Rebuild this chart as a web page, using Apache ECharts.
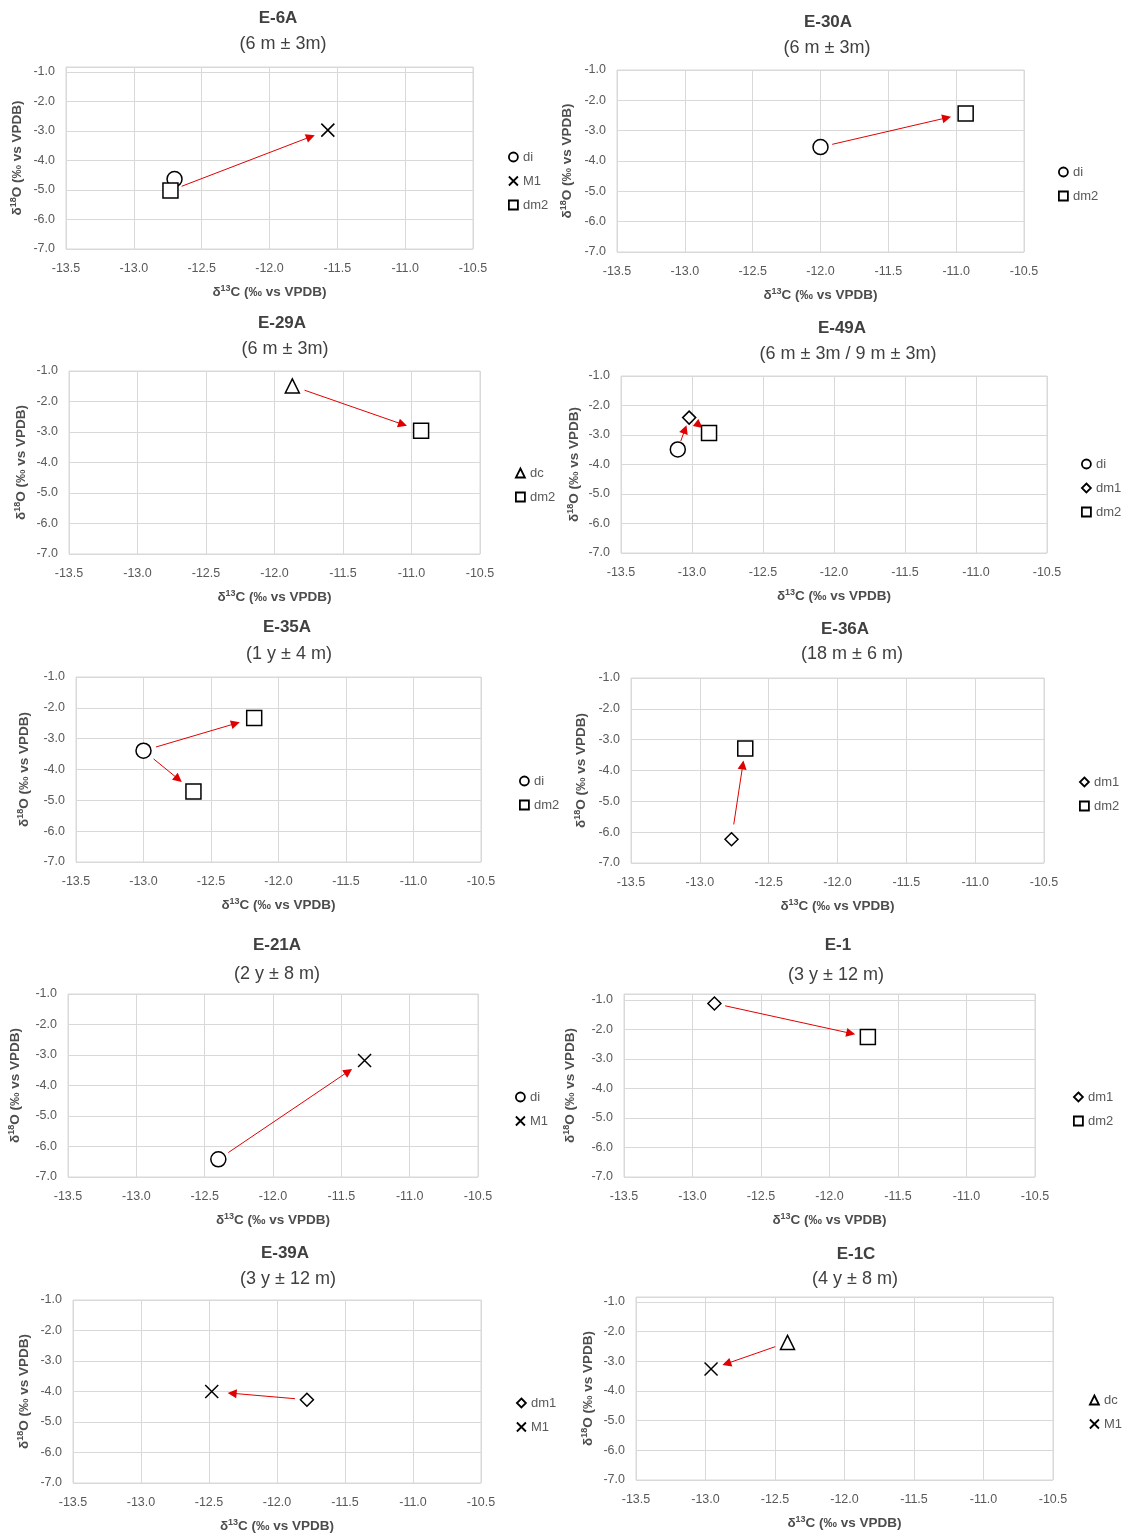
<!DOCTYPE html>
<html><head><meta charset="utf-8">
<script src="https://cdn.jsdelivr.net/npm/echarts@6/dist/echarts.min.js"></script>
<style>html,body{margin:0;padding:0;background:#fff}#c{width:1137px;height:1534px}</style>
</head><body><div id="c"></div>
<script>
// ---------------- DATA ----------------
const panelNames = ['E-6A','E-30A','E-29A','E-49A','E-35A','E-36A','E-21A','E-1','E-39A','E-1C'];
const panelAges = ['(6 m ± 3m)','(6 m ± 3m)','(6 m ± 3m)','(6 m ± 3m / 9 m ± 3m)','(1 y ± 4 m)','(18 m ± 6 m)','(2 y ± 8 m)','(3 y ± 12 m)','(3 y ± 12 m)','(4 y ± 8 m)'];
const xTickRange = [-13.5, -10.5, 0.5];   // min, max, step (δ13C)
const yTickRange = [-7.0, -1.0, 1.0];     // min, max, step (δ18O)

// [phase, [[δ13C, δ18O], ...]]
const ptsE6A  = [['di', [[-12.70,-4.63]]], ['M1', [[-11.57,-2.97]]], ['dm2', [[-12.73,-5.02]]]];
const ptsE30A = [['di', [[-12.00,-3.54]]], ['dm2', [[-10.93,-2.43]]]];
const ptsE29A = [['dc', [[-11.87,-1.49]]], ['dm2', [[-10.93,-2.96]]]];
const ptsE49A = [['di', [[-13.10,-3.49]]], ['dm1', [[-13.02,-2.41]]], ['dm2', [[-12.88,-2.93]]]];
const ptsE35A = [['di', [[-13.00,-3.39]]], ['dm2', [[-12.18,-2.33],[-12.63,-4.71]]]];
const ptsE36A = [['dm1', [[-12.77,-6.23]]], ['dm2', [[-12.67,-3.29]]]];
const ptsE21A = [['di', [[-12.40,-6.42]]], ['M1', [[-11.33,-3.18]]]];
const ptsE1   = [['dm1', [[-12.84,-1.12]]], ['dm2', [[-11.72,-2.26]]]];
const ptsE39A = [['dm1', [[-11.78,-4.27]]], ['M1', [[-12.48,-4.00]]]];
const ptsE1C  = [['dc', [[-12.41,-2.36]]], ['M1', [[-12.96,-3.26]]]];

// arrows: [[fromPhase, idx], [toPhase, idx]]
const arrE6A  = [[['dm2',0],['M1',0]]];
const arrE30A = [[['di',0],['dm2',0]]];
const arrE29A = [[['dc',0],['dm2',0]]];
const arrE49A = [[['di',0],['dm1',0]], [['dm1',0],['dm2',0]]];
const arrE35A = [[['di',0],['dm2',0]], [['di',0],['dm2',1]]];
const arrE36A = [[['dm1',0],['dm2',0]]];
const arrE21A = [[['di',0],['M1',0]]];
const arrE1   = [[['dm1',0],['dm2',0]]];
const arrE39A = [[['dm1',0],['M1',0]]];
const arrE1C  = [[['dc',0],['M1',0]]];

const allPts = [ptsE6A, ptsE30A, ptsE29A, ptsE49A, ptsE35A, ptsE36A, ptsE21A, ptsE1, ptsE39A, ptsE1C];
const allArrows = [arrE6A, arrE30A, arrE29A, arrE49A, arrE35A, arrE36A, arrE21A, arrE1, arrE39A, arrE1C];

// ---------------- LAYOUT / STYLE ----------------
// grid [left, top, right, bottom], yMax, title [x,y], sub [x,y], yName x, legend [left, firstCenterY], arrow gaps [start, tip]
const layouts = [
  {grid:[66,67,473,249],    yMax:-0.83, title:[278,17],   sub:[283,42],   yNameX:17,  legend:[508,157],  gaps:[12,14]},
  {grid:[617,70,1024,252],  yMax:-1,    title:[828,21],   sub:[827,46],   yNameX:567, legend:[1058,172], gaps:[12,15]},
  {grid:[69,371,480,554],   yMax:-1,    title:[282,322],  sub:[285,347],  yNameX:21,  legend:[515,473],  gaps:[13,15]},
  {grid:[621,376,1047,553], yMax:-1,    title:[842,327],  sub:[848,352],  yNameX:574, legend:[1081,464], gaps:[9,8]},
  {grid:[76,677,481,862],   yMax:-1,    title:[287,626],  sub:[289,652],  yNameX:24,  legend:[519,781],  gaps:[13,15]},
  {grid:[631,678,1044,863], yMax:-1,    title:[845,628],  sub:[852,652],  yNameX:581, legend:[1079,782], gaps:[15,12]},
  {grid:[68,994,478,1177],  yMax:-1,    title:[277,944],  sub:[277,972],  yNameX:15,  legend:[515,1097], gaps:[12,15]},
  {grid:[624,994,1035,1177],yMax:-0.80, title:[838,944],  sub:[836,973],  yNameX:570, legend:[1073,1097],gaps:[11,13]},
  {grid:[73,1300,481,1483], yMax:-1,    title:[285,1252], sub:[288,1277], yNameX:24,  legend:[516,1403], gaps:[12,16]},
  {grid:[636,1297,1053,1480],yMax:-0.83,title:[856,1253], sub:[855,1277], yNameX:588, legend:[1089,1400],gaps:[13,12]}
];

const FONT = '"Liberation Sans", Arial, sans-serif';
const SYMBOL = {di:'circle', M1:'path://M0,0L10,10M10,0L0,10', dm2:'rect', dm1:'diamond', dc:'triangle'};
const SIZE = {di:15, M1:13, dm2:15, dm1:13, dc:14};
const HEAD = [7, 9];
const ARROW_COLOR = '#e00000';

const nameRich = {
  b: {fontFamily: FONT, fontSize: 13.5, fontWeight: 'bold', color: '#4d4d4d', lineHeight: 16},
  s: {fontFamily: FONT, fontSize: 9, fontWeight: 'bold', color: '#4d4d4d', lineHeight: 10, verticalAlign: 'top'}
};

const chart = echarts.init(document.getElementById('c'), null, {renderer: 'canvas'});

const titles = [], grids = [], xAxes = [], yAxes = [], legends = [], series = [];
allPts.forEach((pts, i) => {
  const L = layouts[i];
  const [gl, gt, gr, gb] = L.grid;
  titles.push({text: panelNames[i], left: L.title[0], top: L.title[1] - 7, textAlign: 'center', padding: 0,
    textStyle: {fontFamily: FONT, fontSize: 17, fontWeight: 'bold', color: '#404040'}});
  titles.push({text: panelAges[i], left: L.sub[0], top: L.sub[1] - 7, textAlign: 'center', padding: 0,
    textStyle: {fontFamily: FONT, fontSize: 18, fontWeight: 'normal', color: '#404040'}});
  grids.push({left: gl, top: gt, width: gr - gl, height: gb - gt, show: true, borderColor: '#d9d9d9', borderWidth: 1});
  xAxes.push({type: 'value', gridIndex: i, min: xTickRange[0], max: xTickRange[1], interval: xTickRange[2],
    axisLine: {show: false}, axisTick: {show: false},
    splitLine: {show: true, lineStyle: {color: '#d9d9d9', width: 1}},
    axisLabel: {margin: 13, fontFamily: FONT, fontSize: 12.5, color: '#595959', formatter: v => v.toFixed(1)},
    name: '{b|δ}{s|13}{b|C (‰ vs VPDB)}', nameLocation: 'middle', nameGap: 35,
    nameTextStyle: {rich: nameRich}});
  yAxes.push({type: 'value', gridIndex: i, min: yTickRange[0], max: L.yMax, interval: yTickRange[2],
    axisLine: {show: false}, axisTick: {show: false},
    splitLine: {show: true, lineStyle: {color: '#d9d9d9', width: 1}},
    axisLabel: {margin: 11, fontFamily: FONT, fontSize: 12.5, color: '#595959',
      formatter: v => (Math.abs(v - Math.round(v)) < 1e-6 && v <= yTickRange[1] + 1e-6) ? v.toFixed(1) : ''},
    name: '{b|δ}{s|18}{b|O (‰ vs VPDB)}', nameLocation: 'middle', nameRotate: 90,
    nameGap: gl - L.yNameX - 8, nameTextStyle: {rich: nameRich}});
  legends.push({data: pts.map(p => p[0]), orient: 'vertical', left: L.legend[0], top: L.legend[1] - 7,
    padding: 0, itemWidth: 9, itemHeight: 9, itemGap: 10, selectedMode: false,
    itemStyle: {borderWidth: 1.8},
    textStyle: {fontFamily: FONT, fontSize: 13, color: '#595959', lineHeight: 14}});
  pts.forEach(([phase, data]) => {
    series.push({type: 'scatter', name: phase, xAxisIndex: i, yAxisIndex: i, data: data,
      symbol: SYMBOL[phase], symbolSize: SIZE[phase], z: 5,
      itemStyle: {color: '#ffffff', borderColor: '#000000', borderWidth: 1.5, opacity: 1},
      emphasis: {disabled: true}, silent: true});
  });
});

chart.setOption({
  animation: false,
  backgroundColor: '#ffffff',
  textStyle: {fontFamily: FONT},
  title: titles, grid: grids, xAxis: xAxes, yAxis: yAxes, legend: legends, series: series
});

// arrows, drawn through the axes' own scales, shortened by a pixel gap at each end
function findPt(pts, ref) { return pts.find(s => s[0] === ref[0])[1][ref[1]]; }
const arrowSeries = [];
allArrows.forEach((arrs, i) => {
  const g = layouts[i].gaps;
  const data = arrs.map(([from, to]) => {
    const a = chart.convertToPixel({gridIndex: i}, findPt(allPts[i], from));
    const b = chart.convertToPixel({gridIndex: i}, findPt(allPts[i], to));
    const dx = b[0] - a[0], dy = b[1] - a[1], len = Math.hypot(dx, dy), ux = dx / len, uy = dy / len;
    const s = [a[0] + ux * g[0], a[1] + uy * g[0]];
    const e = [b[0] - ux * (g[1] + HEAD[1] / 2), b[1] - uy * (g[1] + HEAD[1] / 2)];
    return {coords: [chart.convertFromPixel({gridIndex: i}, s), chart.convertFromPixel({gridIndex: i}, e)]};
  });
  arrowSeries.push({type: 'lines', coordinateSystem: 'cartesian2d', xAxisIndex: i, yAxisIndex: i,
    data: data, symbol: ['none', 'triangle'], symbolSize: HEAD, z: 3, silent: true,
    lineStyle: {color: ARROW_COLOR, width: 1, opacity: 1, curveness: 0},
    itemStyle: {color: ARROW_COLOR}});
});
chart.setOption({series: series.concat(arrowSeries)});
</script>
</body></html>
